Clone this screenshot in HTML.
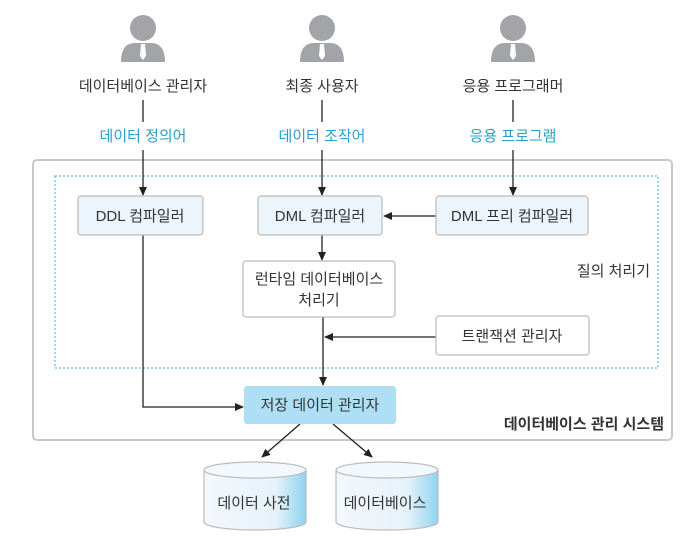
<!DOCTYPE html>
<html><head><meta charset="utf-8"><style>
body{margin:0;background:#fff;width:692px;height:540px;overflow:hidden}
svg text{font-family:"Liberation Sans","Noto Sans CJK KR",sans-serif;font-size:15px;fill:#333}
</style></head><body>
<svg width="692" height="540" viewBox="0 0 692 540">
<defs>
<marker id="a" markerWidth="10" markerHeight="10" refX="8" refY="4" orient="auto" markerUnits="userSpaceOnUse"><path d="M0,0 L9,4 L0,8z" fill="#222"/></marker>
<linearGradient id="cg" x1="0" x2="1"><stop offset="0" stop-color="#f3f8fc"/><stop offset="0.7" stop-color="#e6f2fa"/><stop offset="1" stop-color="#8fd3f0"/></linearGradient>
<g id="p"><circle cx="0" cy="-12" r="13" fill="#a3a4a7"/><path d="M-22,22 Q-22,3 -8,3 L8,3 Q22,3 22,22z" fill="#a3a4a7"/><path d="M-2,4 L2,4 L3,16 L0,20 L-3,16z" fill="#fff"/></g>
</defs>
<rect x="33" y="160" width="639" height="280" rx="4" fill="none" stroke="#c8c8c8" stroke-width="2"/>
<rect x="55" y="176" width="603" height="192" fill="none" stroke="#5cc3e6" stroke-width="1.3" stroke-dasharray="2,2"/>
<use href="#p" x="143" y="40"/><use href="#p" x="322" y="40"/><use href="#p" x="513" y="40"/>
<text x="143" y="91" text-anchor="middle">데이터베이스 관리자</text>
<text x="322" y="91" text-anchor="middle">최종 사용자</text>
<text x="513" y="91" text-anchor="middle">응용 프로그래머</text>
<text x="143" y="141" text-anchor="middle" style="fill:#2aa0c8">데이터 정의어</text>
<text x="322" y="141" text-anchor="middle" style="fill:#2aa0c8">데이터 조작어</text>
<text x="513" y="141" text-anchor="middle" style="fill:#2aa0c8">응용 프로그램</text>
<g stroke="#222" stroke-width="1.3" fill="none">
<line x1="143" y1="100" x2="143" y2="122"/><line x1="143" y1="150" x2="143" y2="195" marker-end="url(#a)"/>
<line x1="322" y1="100" x2="322" y2="122"/><line x1="322" y1="150" x2="322" y2="195" marker-end="url(#a)"/>
<line x1="513" y1="100" x2="513" y2="122"/><line x1="513" y1="150" x2="513" y2="195" marker-end="url(#a)"/>
<line x1="436" y1="216" x2="384" y2="216" marker-end="url(#a)"/>
<line x1="322" y1="235" x2="322" y2="260" marker-end="url(#a)"/>
<line x1="323" y1="317" x2="323" y2="385" marker-end="url(#a)"/>
<line x1="436" y1="337" x2="325" y2="337" marker-end="url(#a)"/>
<polyline points="143,235 143,407 243,407" marker-end="url(#a)"/>
<line x1="300" y1="424" x2="262" y2="457" marker-end="url(#a)"/>
<line x1="333" y1="424" x2="372" y2="457" marker-end="url(#a)"/>
</g>
<g fill="#edf5fc" stroke="#bbb" stroke-width="1.2">
<rect x="78" y="196" width="125" height="39" rx="3"/>
<rect x="258" y="196" width="124" height="39" rx="3"/>
<rect x="436" y="196" width="152" height="39" rx="3"/>
</g>
<g fill="#fff" stroke="#bbb" stroke-width="1.2">
<rect x="243" y="261" width="152" height="56" rx="3"/>
<rect x="436" y="316" width="153" height="39" rx="3"/>
</g>
<rect x="244" y="386" width="152" height="38" rx="3" fill="#aedff5"/>
<text x="140" y="221" text-anchor="middle">DDL 컴파일러</text>
<text x="320" y="221" text-anchor="middle">DML 컴파일러</text>
<text x="512" y="221" text-anchor="middle">DML 프리 컴파일러</text>
<text x="319" y="284" text-anchor="middle">런타임 데이터베이스</text>
<text x="319" y="305" text-anchor="middle">처리기</text>
<text x="512" y="341" text-anchor="middle">트랜잭션 관리자</text>
<text x="320" y="410" text-anchor="middle">저장 데이터 관리자</text>
<text x="650" y="276" text-anchor="end">질의 처리기</text>
<text x="664" y="429" text-anchor="end" font-weight="bold">데이터베이스 관리 시스템</text>
<g stroke="#bbb" stroke-width="1.2">
<path d="M204,470 L204,522 A51,8 0 0 0 306,522 L306,470" fill="url(#cg)"/>
<ellipse cx="255" cy="470" rx="51" ry="8" fill="#f3f8fc"/>
<path d="M336,470 L336,522 A51,8 0 0 0 438,522 L438,470" fill="url(#cg)"/>
<ellipse cx="387" cy="470" rx="51" ry="8" fill="#f3f8fc"/>
</g>
<text x="254" y="508" text-anchor="middle">데이터 사전</text>
<text x="385" y="508" text-anchor="middle">데이터베이스</text>
</svg>
</body></html>
